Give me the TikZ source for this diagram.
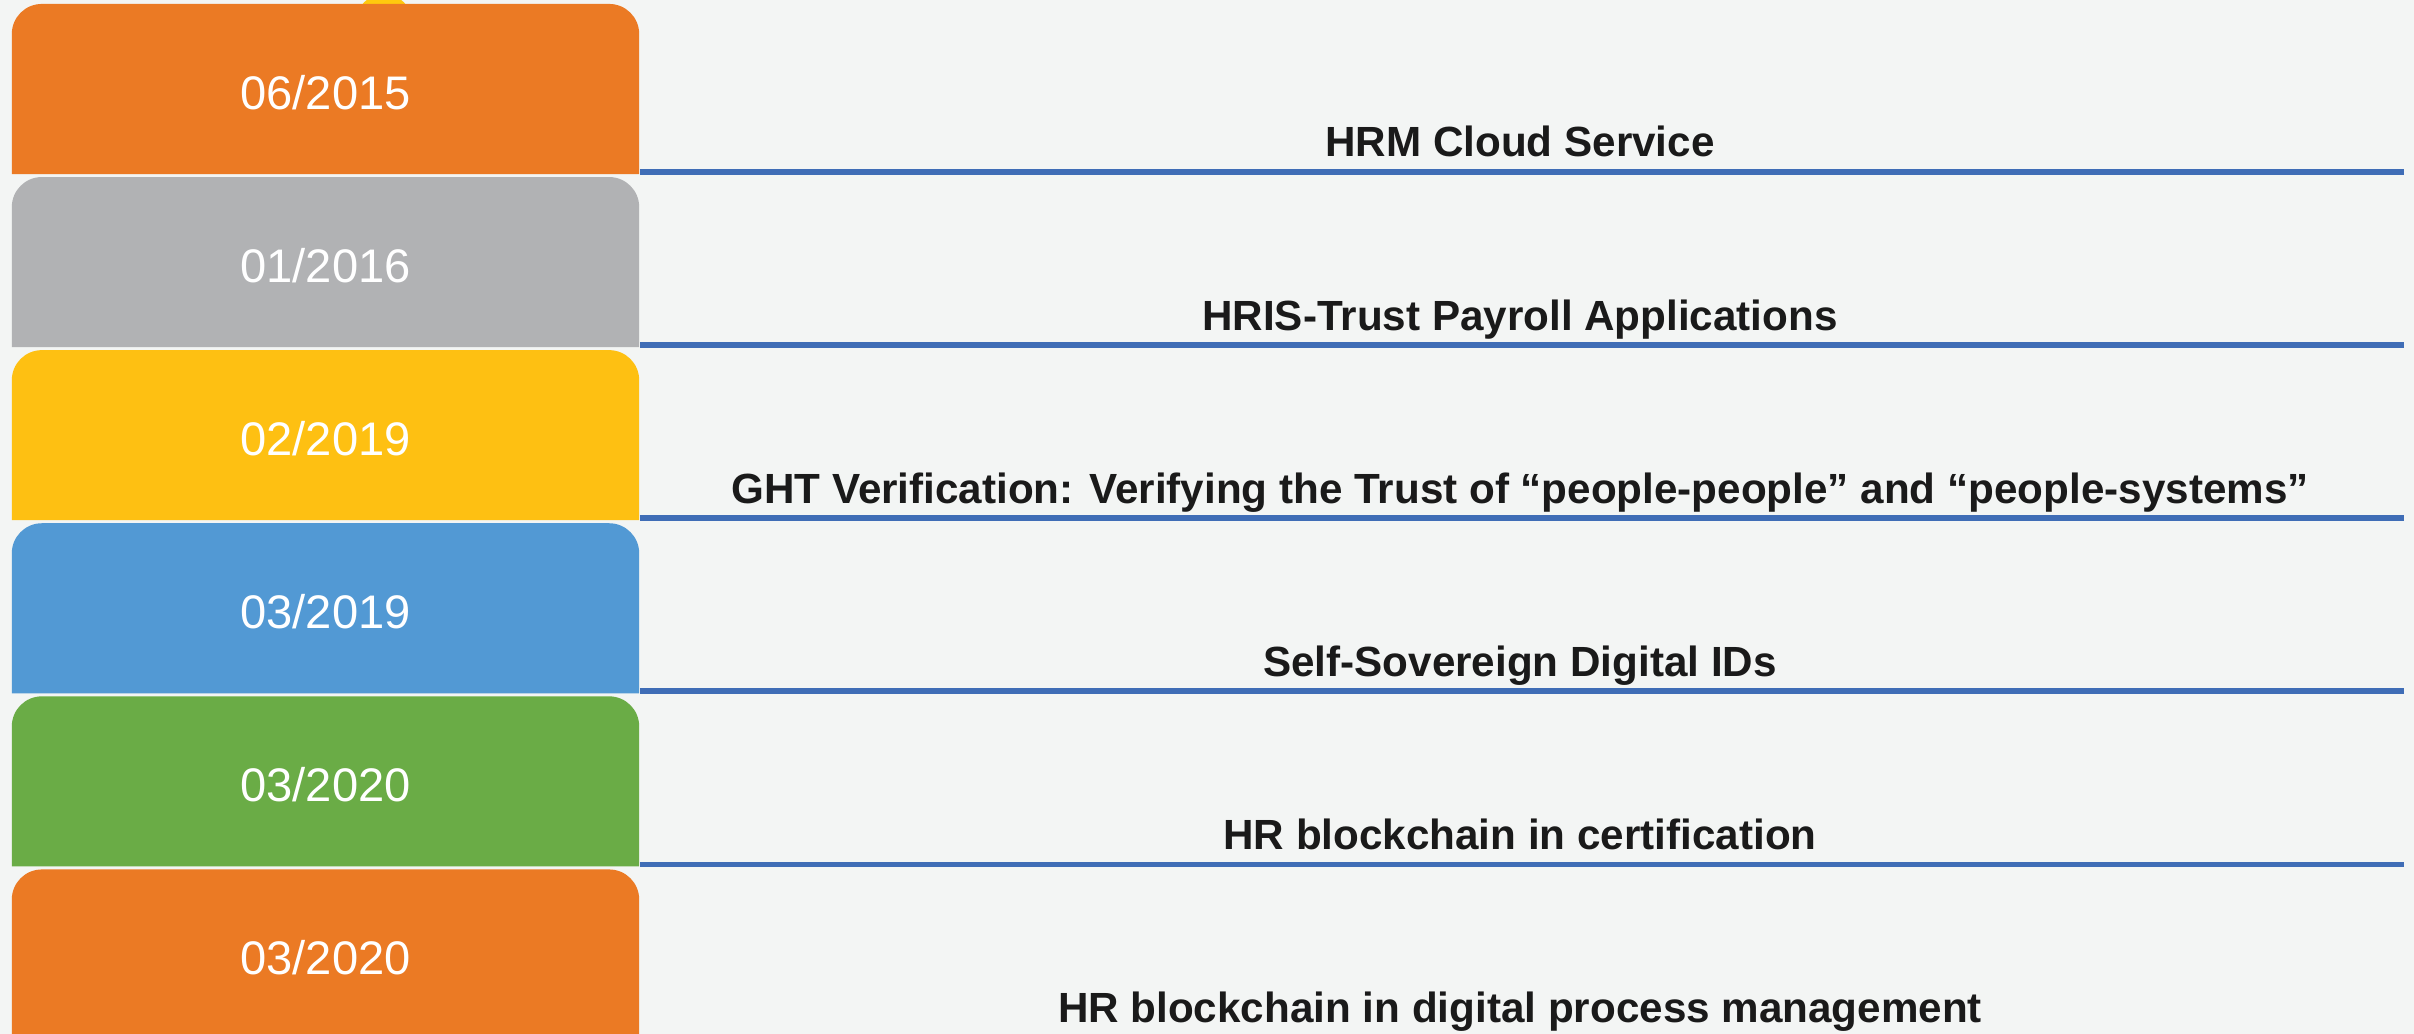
\documentclass[tikz,border=0pt]{standalone}
\usepackage{fontspec}
\setmainfont{Liberation Sans}
\definecolor{pagebg}{HTML}{F3F5F4}
\definecolor{cOrange}{HTML}{EB7A24}
\definecolor{cGray}{HTML}{B1B2B4}
\definecolor{cYellow}{HTML}{FEC012}
\definecolor{cBlue}{HTML}{5299D4}
\definecolor{cGreen}{HTML}{6AAC46}
\definecolor{barblue}{HTML}{3F6DB6}
\definecolor{dotyellow}{HTML}{FFC90E}
\definecolor{labelink}{HTML}{1A1A1A}
\begin{document}
\begin{tikzpicture}[x=0.01cm,y=-0.01cm,
  datebox/.style={minimum width=6.27cm, minimum height=1.70cm, inner sep=0pt,
    text height=0.40cm, text depth=0pt,
    text=white, font=\fontsize{13.4}{16}\selectfont},
  bar/.style={draw=barblue, line width=0.055cm},
  caption/.style={anchor=base, text=labelink,
    font=\fontsize{12}{14}\selectfont\bfseries}]
\useasboundingbox (0,0) rectangle (2414,1034);
\clip (0,0) rectangle (2414,1034);
\fill[pagebg] (0,0) rectangle (2414,1034);
% small marker peeking above the first card
\node[circle, fill=dotyellow, minimum size=0.56cm, inner sep=0pt] (dot) at (384,22) {};
\foreach \i/\c/\d/\t in {
  0/cOrange/{06/2015}/{HRM Cloud Service},
  1/cGray/{01/2016}/{HRIS-Trust Payroll Applications},
  2/cYellow/{02/2019}/{GHT Verification: Verifying the Trust of “people-people” and “people-systems”},
  3/cBlue/{03/2019}/{Self-Sovereign Digital IDs},
  4/cGreen/{03/2020}/{HR blockchain in certification},
  5/cOrange/{03/2020}/{HR blockchain in digital process management}} {
  \pgfmathsetmacro\ytop{4+173.1*\i}
  % date card with rounded top corners only
  \node[datebox, path picture={
      \fill[\c] (path picture bounding box.south west) [rounded corners=0.3cm]
        -- (path picture bounding box.north west)
        -- (path picture bounding box.north east) [sharp corners]
        -- (path picture bounding box.south east) -- cycle;}]
    (b\i) at (325.5,{\ytop+85}) {\d};
  % rule running from the card's lower right corner to the right margin
  \coordinate (s\i) at ([yshift=0.028cm]b\i.south east);
  \coordinate (e\i) at ([xshift=17.63cm]s\i);
  \draw[bar] (s\i) -- (e\i);
  \node[caption] (t\i) at (1520,{\ytop+153}) {\t};
}
\end{tikzpicture}
\end{document}
